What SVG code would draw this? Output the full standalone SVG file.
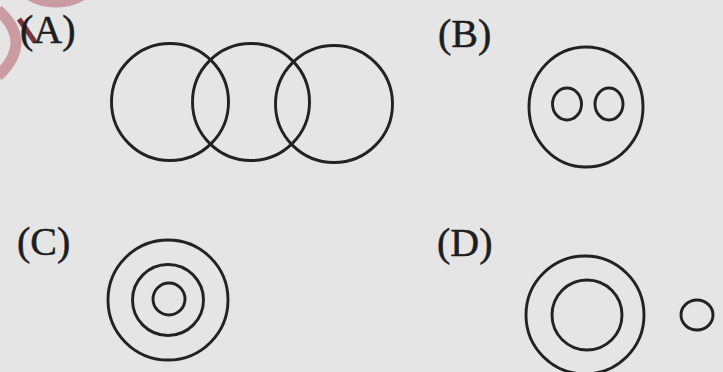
<svg xmlns="http://www.w3.org/2000/svg" width="723" height="372" viewBox="0 0 723 372">
  <style>
    .c { fill: none; stroke: #222222; stroke-width: 2.9; }
    .lbl { font-family: "Liberation Serif", "Times New Roman", serif; font-size: 40px; fill: #1e1e1e; stroke: #1e1e1e; stroke-width: 0.5; }
    .mark { fill: none; stroke: #c7939a; stroke-width: 11; opacity: 0.9; }
  </style>
  <rect width="723" height="372" fill="#e5e5e5"/>
  <g id="watermark">
    <circle class="mark" cx="56" cy="-50" r="52"/>
    <path class="mark" d="M -2 10 Q 34 42 -2 76"/>
    <path d="M 19 19 L 35 42" stroke="#7b343c" stroke-width="5" fill="none"/>
  </g>
  <g id="A">
    <text class="lbl" x="20" y="43">(A)</text>
    <circle class="c" cx="170" cy="102" r="58.5"/>
    <circle class="c" cx="251" cy="102" r="58.5"/>
    <circle class="c" cx="334" cy="104" r="58.5"/>
  </g>
  <g id="B">
    <text class="lbl" x="438" y="47">(B)</text>
    <ellipse class="c" cx="586" cy="107" rx="57" ry="60"/>
    <ellipse class="c" cx="567" cy="104" rx="14.5" ry="16"/>
    <ellipse class="c" cx="609" cy="104" rx="14" ry="16"/>
  </g>
  <g id="C">
    <text class="lbl" x="17" y="255">(C)</text>
    <circle class="c" cx="168" cy="300" r="60"/>
    <circle class="c" cx="168" cy="300" r="35.5"/>
    <circle class="c" cx="169" cy="299" r="16"/>
  </g>
  <g id="D">
    <text class="lbl" x="437" y="256">(D)</text>
    <circle class="c" cx="585" cy="315" r="59"/>
    <circle class="c" cx="587" cy="315" r="35"/>
    <ellipse class="c" cx="697" cy="315" rx="16" ry="15"/>
  </g>
  <g id="connectors"/>
</svg>
